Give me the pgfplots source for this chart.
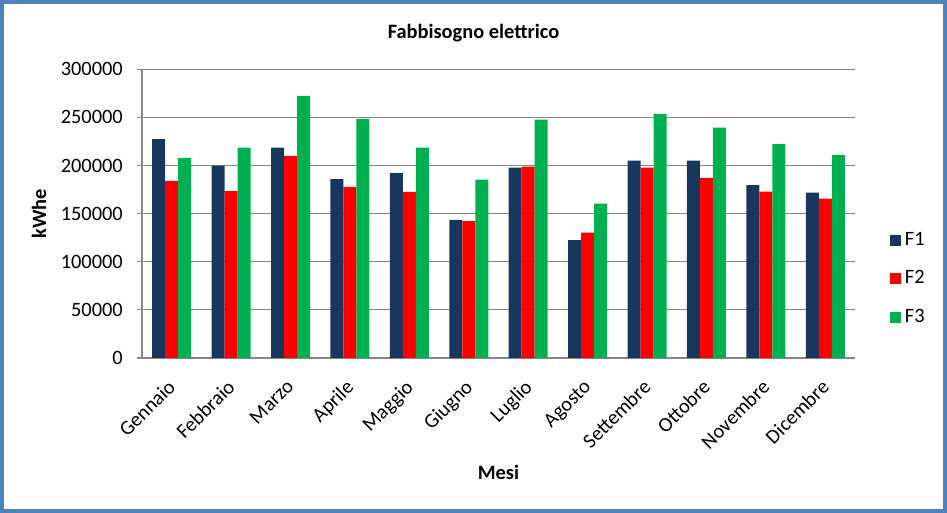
\documentclass[border=0pt]{standalone}
\usepackage{fontspec}
\setmainfont{Carlito}
\usepackage{pgfplots}
\pgfplotsset{compat=1.18}
\usepackage{pgfplotstable}
\definecolor{cF1}{HTML}{17375E}
\definecolor{cF2}{HTML}{FF0000}
\definecolor{cF3}{HTML}{00B050}
\definecolor{gridc}{HTML}{868686}
\definecolor{framec}{HTML}{4F81BD}

\pgfplotstableread{
x F1 F2 F3
0 227500 184000 208000
1 200000 173500 218500
2 218500 210000 272500
3 186000 177700 248600
4 192200 172500 218500
5 143400 142300 185300
6 197700 198800 247600
7 122600 130200 160300
8 205000 197700 253800
9 205000 187300 239300
10 179700 172800 222300
11 171800 165500 211200
}\datatable

\begin{document}
\fontsize{10.2}{12}\selectfont
\begin{tikzpicture}
\path[use as bounding box] (0,0) rectangle (473.5pt,256.5pt);
\fill[white] (0,0) rectangle (473.5pt,256.5pt);
\begin{axis}[
  at={(71pt,77.5pt)}, anchor=south west,
  scale only axis, width=356.5pt, height=144.35pt,
  ybar=0pt, bar width=6.5pt,
  xmin=-0.5, xmax=11.5, ymin=0, ymax=300000,
  ytick={0,50000,100000,150000,200000,250000,300000},
  scaled y ticks=false,
  yticklabel style={xshift=-3.5pt, /pgf/number format/fixed, /pgf/number format/1000 sep={}, /pgf/number format/assume math mode=true},
  xtick=data,
  xticklabels={Gennaio,Febbraio,Marzo,Aprile,Maggio,Giugno,Luglio,Agosto,Settembre,Ottobre,Novembre,Dicembre},
  xticklabel style={rotate=45, anchor=north east, inner sep=1pt, xshift=-6.1pt, yshift=-2.5pt},
  xtick style={draw=none},
  axis x line*=bottom, axis y line*=left,
  axis line style={gridc, line width=0.6pt},
  tick align=outside, major tick length=2.5pt,
  ytick style={gridc, line width=0.6pt},
  ymajorgrids, grid style={gridc, line width=0.6pt},
  title={Fabbisogno elettrico},
  title style={font=\bfseries, at={(axis description cs:0.465,1.085)}, anchor=center},
  xlabel={Mesi},
  xlabel style={font=\bfseries, at={(axis description cs:0.5,-0.395)}, anchor=center},
  ylabel={kWhe},
  ylabel style={font=\bfseries, at={(axis description cs:-0.1445,0.5)}, anchor=center},
  legend style={at={(axis description cs:1.04,0.274)}, anchor=west, draw=none, fill=none, row sep=7pt,
    /tikz/every even column/.append style={column sep=2pt}},
  legend cell align=left,
  legend image code/.code={\fill[#1] (0pt,-2.75pt) rectangle (5.5pt,2.75pt);},
]
\addplot[fill=cF1, draw=none] table[x=x,y=F1]{\datatable};
\addplot[fill=cF2, draw=none] table[x=x,y=F2]{\datatable};
\addplot[fill=cF3, draw=none] table[x=x,y=F3]{\datatable};
\legend{F1,F2,F3}
\end{axis}
\draw[framec, line width=2pt] (1pt,1pt) rectangle (472.5pt,255.5pt);
\end{tikzpicture}
\end{document}
